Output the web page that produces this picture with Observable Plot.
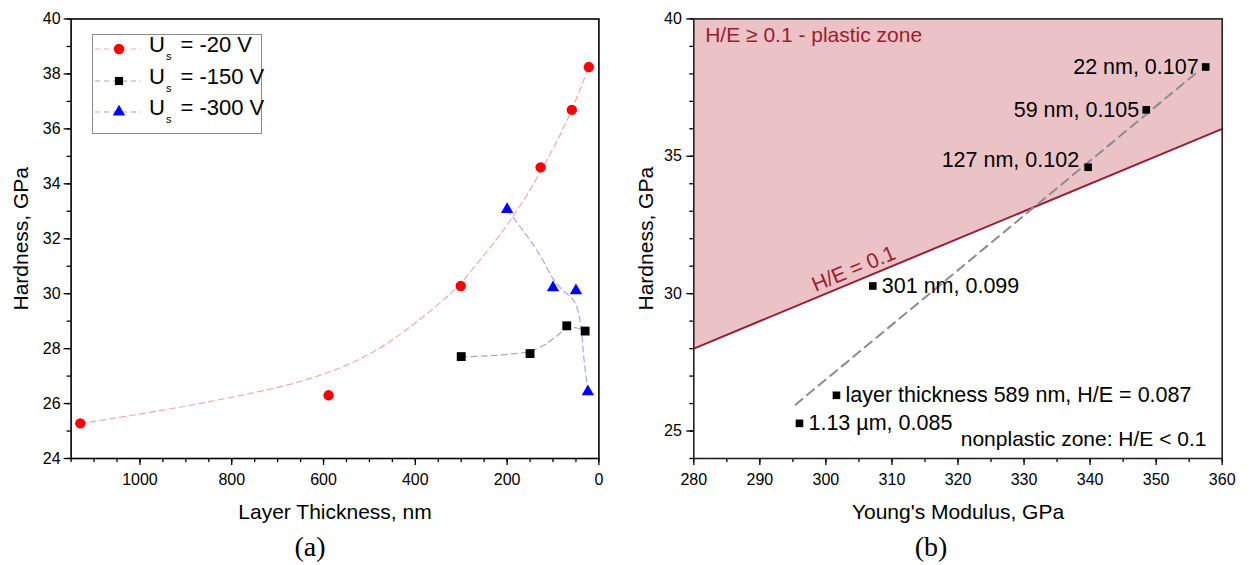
<!DOCTYPE html>
<html>
<head>
<meta charset="utf-8">
<script src="https://cdn.jsdelivr.net/npm/d3@7"></script>
<script src="https://cdn.jsdelivr.net/npm/@observablehq/plot@0.6"></script>
<style>
  html, body { margin: 0; padding: 0; background: #fff; }
  #wrap { position: relative; width: 1252px; height: 565px; overflow: hidden;
          font-family: "Liberation Sans", Arial, sans-serif; }
  #panelA { position: absolute; left: 0; top: 0; }
  #panelB { position: absolute; left: 640px; top: 0; }
  .cap { position: absolute; top: 547px; transform: translate(-50%, -50%);
         font-family: "Liberation Serif", "Times New Roman", serif; font-size: 28px; color: #000; }
  #legend { position: absolute; left: 92px; top: 34px; width: 170px; height: 100px;
            box-sizing: border-box; border: 1px solid #8c8c8c; background: #fff; }
  #legend .row { position: absolute; left: 0; height: 30px; width: 168px; }
  #legend svg { position: absolute; left: 0; top: 0; }
  #legend .lab { position: absolute; left: 56px; top: 50%; transform: translateY(-55%);
                 font-size: 22px; white-space: nowrap; color: #000; line-height: 1; }
  #legend sub { font-size: 11px; vertical-align: -8px; margin-left: 1px; margin-right: 3px; }
</style>
</head>
<body>
<div id="wrap">
  <div id="panelA"></div>
  <div id="panelB"></div>
  <div id="legend"></div>
  <div class="cap" style="left:310px">(a)</div>
  <div class="cap" style="left:931px">(b)</div>
</div>
<script>
// ---------- Panel (a): hardness vs. layer thickness for three bias voltages ----------
const biasVoltage = [-20, -150, -300];

// measured points, U_s = -20 V
const s20Thickness = [1130, 589, 301, 127, 59, 22];
const s20Hardness  = [25.28, 26.3, 30.28, 34.6, 36.69, 38.25];
// measured points, U_s = -150 V
const s150Thickness = [300, 150, 70, 30];
const s150Hardness  = [27.71, 27.82, 28.83, 28.64];
// measured points, U_s = -300 V
const s300Thickness = [200, 100, 50, 24];
const s300Hardness  = [33.07, 30.22, 30.11, 26.43];

// fitted trend curves (dashed)
const fit20Thickness = [1130, 957, 812, 667, 558, 470, 403, 330, 300, 258, 222, 200, 160, 127, 90, 59, 22];
const fit20Hardness  = [25.27, 25.74, 26.19, 26.73, 27.34, 28.1, 28.9, 29.9, 30.4, 31.25, 32.0, 32.5, 33.5, 34.45, 35.6, 36.7, 38.25];
const fit150Thickness = [300, 250, 200, 150, 120, 95, 70, 50, 31];
const fit150Hardness  = [27.7, 27.73, 27.79, 27.9, 28.12, 28.42, 28.72, 28.76, 28.64];
const fit300Thickness = [200, 170, 150, 125, 100, 80, 60, 50, 40, 33, 24];
const fit300Hardness  = [33.07, 32.4, 31.95, 31.3, 30.55, 30.15, 29.85, 29.6, 28.9, 27.7, 26.43];

// axes of panel (a)
const thicknessDomain = [1150, 0];
const hardnessDomainA = [24, 40];
const thicknessTicks = [0, 200, 400, 600, 800, 1000];
const hardnessTicksA = [24, 26, 28, 30, 32, 34, 36, 38, 40];

// ---------- Panel (b): hardness vs. Young's modulus for U_s = -20 V ----------
const modulusGPa   = [357.5, 348.5, 339.7, 307.1, 301.6, 296.0];
const hardnessGPa  = [38.25, 36.69, 34.6, 30.28, 26.3, 25.28];
const pointLabels  = ["22 nm, 0.107", "59 nm, 0.105", "127 nm, 0.102", "301 nm, 0.099",
                      "layer thickness 589 nm, H/E = 0.087", "1.13 µm, 0.085"];
// H/E = 0.1 boundary
const boundaryModulus  = [280, 360];
const boundaryHardness = [28, 36];
// linear trend through the points
const trendModulus  = [295.4, 356.3];
const trendHardness = [25.96, 38.08];

const modulusDomain = [280, 360];
const hardnessDomainB = [24, 40];
const modulusTicks = [280, 290, 300, 310, 320, 330, 340, 350, 360];
const hardnessTicksB = [25, 30, 35, 40];

const zipXY = (xs, ys) => xs.map((x, i) => ({x, y: ys[i]}));
const plain = (d) => String(d);

const colors = {red: "#ff0000", black: "#000000", blue: "#0000ff"};
const fitColors = {red: "#f3a9a9", black: "#a8a8a8", blue: "#a6a6f2"};
const font = "'Liberation Sans', Arial, sans-serif";

// ---------- draw panel (a) ----------
const plotA = Plot.plot({
  width: 640, height: 530,
  marginLeft: 70.6, marginRight: 41.6, marginTop: 18.5, marginBottom: 72,
  style: {fontFamily: font, fontSize: "16px", color: "#000", background: "transparent", overflow: "visible"},
  x: {domain: thicknessDomain, label: null},
  y: {domain: hardnessDomainA, label: null},
  marks: [
    Plot.line(zipXY(fit20Thickness, fit20Hardness), {x: "x", y: "y", stroke: fitColors.red, strokeWidth: 1.2, strokeDasharray: "6,4", curve: "catmull-rom"}),
    Plot.line(zipXY(fit150Thickness, fit150Hardness), {x: "x", y: "y", stroke: fitColors.black, strokeWidth: 1.2, strokeDasharray: "6,4", curve: "catmull-rom"}),
    Plot.line(zipXY(fit300Thickness, fit300Hardness), {x: "x", y: "y", stroke: fitColors.blue, strokeWidth: 1.2, strokeDasharray: "6,4", curve: "catmull-rom"}),
    Plot.dot(zipXY(s20Thickness, s20Hardness), {x: "x", y: "y", symbol: "circle", r: 5.2, fill: colors.red}),
    Plot.dot(zipXY(s150Thickness, s150Hardness), {x: "x", y: "y", symbol: "square", r: 5, fill: colors.black}),
    Plot.dot(zipXY(s300Thickness, s300Hardness), {x: "x", y: "y", symbol: "triangle", r: 4.6, fill: colors.blue}),
    Plot.axisX({ticks: d3.range(0, 1151, 50), tickSize: 4, tickFormat: () => "", label: null, strokeWidth: 1.3}),
    Plot.axisX({ticks: thicknessTicks, tickSize: 7, tickPadding: 8, tickFormat: plain, label: null, strokeWidth: 1.3, fontSize: 16}),
    Plot.axisY({ticks: d3.range(24, 40.5, 1), tickSize: 4, tickFormat: () => "", label: null, strokeWidth: 1.3}),
    Plot.axisY({ticks: hardnessTicksA, tickSize: 7, tickPadding: 3.5, tickFormat: plain, label: null, strokeWidth: 1.3, fontSize: 16}),
    Plot.frame({stroke: "#000", strokeWidth: 1.6}),
    Plot.text(["Layer Thickness, nm"], {frameAnchor: "bottom", lineAnchor: "middle", dy: 54, fontSize: 21}),
    Plot.text(["Hardness, GPa"], {frameAnchor: "left", textAnchor: "middle", lineAnchor: "middle", rotate: -90, dx: -50, fontSize: 21})
  ]
});
document.getElementById("panelA").append(plotA);

// ---------- draw panel (b) ----------
const zoneRed = "#9b1b30";
const labelled = zipXY(modulusGPa, hardnessGPa).map((d, i) => ({...d, label: pointLabels[i]}));
const plotB = Plot.plot({
  width: 612, height: 530,
  marginLeft: 53.3, marginRight: 30.3, marginTop: 18.4, marginBottom: 72,
  style: {fontFamily: font, fontSize: "16px", color: "#000", background: "transparent", overflow: "visible"},
  x: {domain: modulusDomain, label: null},
  y: {domain: hardnessDomainB, label: null},
  marks: [
    Plot.areaY(zipXY(boundaryModulus, boundaryHardness), {x: "x", y1: "y", y2: () => hardnessDomainB[1], fill: "#ebc3c7"}),
    Plot.line(zipXY(boundaryModulus, boundaryHardness), {x: "x", y: "y", stroke: zoneRed, strokeWidth: 2}),
    Plot.line(zipXY(trendModulus, trendHardness), {x: "x", y: "y", stroke: "#8c8c8c", strokeWidth: 2, strokeDasharray: "9,6"}),
    Plot.dot(labelled, {x: "x", y: "y", symbol: "square", r: 4.3, fill: "#000"}),
    // labels left of their points
    Plot.text(labelled.filter((d, i) => i < 2),
      {x: "x", y: "y", text: "label", textAnchor: "end", dx: -7, fontSize: 21.5}),
    Plot.text(labelled.filter((d, i) => i === 2),
      {x: "x", y: "y", text: "label", textAnchor: "end", dx: -9, dy: -7, fontSize: 21.5}),
    // labels right of their points
    Plot.text(labelled.filter((d, i) => i >= 3),
      {x: "x", y: "y", text: "label", textAnchor: "start", dx: 9, fontSize: 21.5}),
    Plot.text(["H/E = 0.1"], {x: () => 304.2, y: () => 30.9, rotate: -22.6, textAnchor: "middle", lineAnchor: "middle", fill: zoneRed, fontSize: 21}),
    Plot.text(["H/E \u2265 0.1 - plastic zone"], {frameAnchor: "top-left", textAnchor: "start", lineAnchor: "middle", dx: 11.4, dy: 16.3, fill: zoneRed, fontSize: 21}),
    Plot.text(["nonplastic zone: H/E < 0.1"], {frameAnchor: "bottom-right", textAnchor: "end", lineAnchor: "middle", dx: -15.7, dy: -19.7, fontSize: 21}),
    Plot.axisX({ticks: d3.range(280, 361, 5), tickSize: 4, tickFormat: () => "", label: null, strokeWidth: 1.3}),
    Plot.axisX({ticks: modulusTicks, tickSize: 7, tickPadding: 8, tickFormat: plain, label: null, strokeWidth: 1.3, fontSize: 16}),
    Plot.axisY({ticks: d3.range(24, 40.5, 1), tickSize: 4, tickFormat: () => "", label: null, strokeWidth: 1.3}),
    Plot.axisY({ticks: hardnessTicksB, tickSize: 7, tickPadding: 5, tickFormat: plain, label: null, strokeWidth: 1.3, fontSize: 16}),
    Plot.frame({stroke: "#222", strokeWidth: 1.6}),
    Plot.text(["Young's Modulus, GPa"], {frameAnchor: "bottom", lineAnchor: "middle", dy: 54, fontSize: 21}),
    Plot.text(["Hardness, GPa"], {frameAnchor: "left", textAnchor: "middle", lineAnchor: "middle", rotate: -90, dx: -48, fontSize: 21})
  ]
});
document.getElementById("panelB").append(plotB);

// ---------- legend of panel (a) ----------
const legendSeries = [
  {v: biasVoltage[0], color: colors.red, fit: fitColors.red, symbol: d3.symbolCircle, size: Math.PI * 5.2 * 5.2},
  {v: biasVoltage[1], color: colors.black, fit: fitColors.black, symbol: d3.symbolSquare, size: Math.PI * 4.6 * 4.6},
  {v: biasVoltage[2], color: colors.blue, fit: fitColors.blue, symbol: d3.symbolTriangle, size: Math.PI * 4.6 * 4.6}
];
const legend = d3.select("#legend");
legendSeries.forEach((s, i) => {
  const row = legend.append("div").attr("class", "row").style("top", `${-1 + i * 31.5}px`);
  const svg = row.append("svg").attr("width", 52).attr("height", 30);
  svg.append("line").attr("x1", 2).attr("x2", 48).attr("y1", 15).attr("y2", 15)
    .attr("stroke", s.fit).attr("stroke-width", 1.2).attr("stroke-dasharray", "5,4");
  svg.append("path").attr("d", d3.symbol(s.symbol, s.size)()).attr("transform", "translate(26,15)").attr("fill", s.color);
  row.append("div").attr("class", "lab").html(`U<sub>s</sub> = ${s.v} V`);
});
</script>
</body>
</html>
